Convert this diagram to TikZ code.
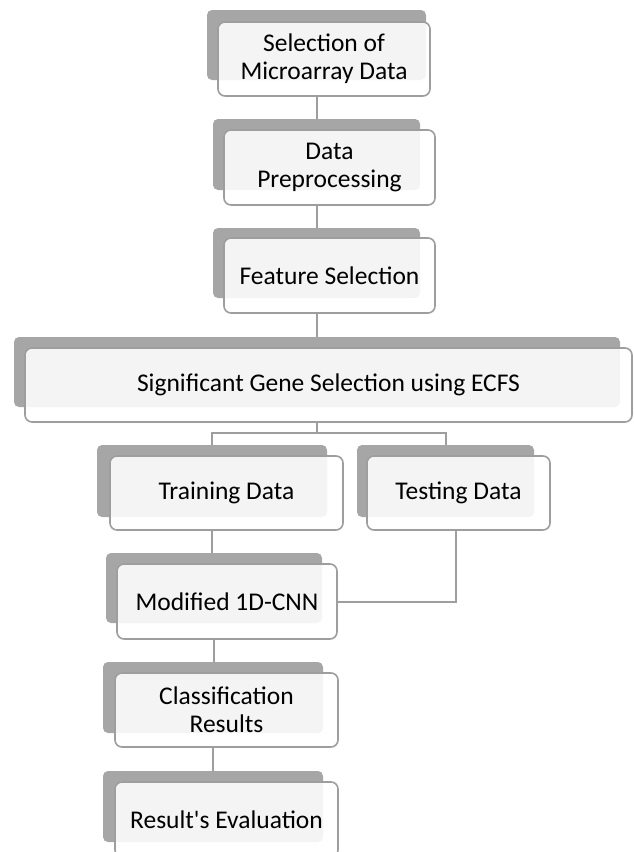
\documentclass[tikz,border=0pt]{standalone}
\usepackage{fontspec}
\setmainfont{Carlito}[Ligatures=TeXOff]
\usepackage{tikz}
\usetikzlibrary{calc,positioning}
\definecolor{shadegray}{RGB}{166,166,166}
\definecolor{linegray}{RGB}{158,158,158}

\begin{document}
\begin{tikzpicture}[x=1pt,y=-1pt,
    backbox/.style={fill=shadegray, rounded corners=5pt, inner sep=0pt, outer sep=0pt},
    frontbox/.style={draw=linegray, line width=1.6pt, rounded corners=7pt, fill=white,
      fill opacity=0.88, text opacity=1, align=center, inner sep=0pt, outer sep=0pt,
      font=\fontsize{25.5}{28}\selectfont},
    link/.style={draw=linegray, line width=2pt}]
        \useasboundingbox (0,0) rectangle (633,852);
        %Shade
        \node[backbox, minimum width=219, minimum height=70] (selB)   at (316.5,45)  {};
        \node[backbox, minimum width=207, minimum height=71] (preB)   at (316.5,154.5) {};
        \node[backbox, minimum width=207, minimum height=70] (featB)  at (316.5,263) {};
        \node[backbox, minimum width=606, minimum height=70] (sigB)   at (317,372)   {};
        \node[backbox, minimum width=230, minimum height=72] (trainB) at (212,481)   {};
        \node[backbox, minimum width=177, minimum height=72] (testB)  at (445.5,481) {};
        \node[backbox, minimum width=216, minimum height=70] (cnnB)   at (214,588)   {};
        \node[backbox, minimum width=220, minimum height=71] (clsB)   at (213,697.5) {};
        \node[backbox, minimum width=220, minimum height=71] (evalB)  at (213,806.5) {};
        %Boxes
        \node[frontbox, minimum width=212, minimum height=74] (sel)   at (324,59)      {Selection of\\Microarray Data};
        \node[frontbox, minimum width=211, minimum height=75] (pre)   at (329.5,167.5) {Data\\Preprocessing};
        \node[frontbox, minimum width=211, minimum height=75] (feat)  at (329.5,275.5) {Feature Selection};
        \node[frontbox, minimum width=607, minimum height=74] (sig)   at (328.5,385)   {Significant Gene Selection using ECFS};
        \node[frontbox, minimum width=233, minimum height=74] (train) at (226.5,493)   {Training Data};
        \node[frontbox, minimum width=183, minimum height=74] (test)  at (458.5,493)   {Testing Data};
        \node[frontbox, minimum width=220, minimum height=75] (cnn)   at (227,601.5)   {Modified 1D-CNN};
        \node[frontbox, minimum width=223, minimum height=74] (cls)   at (226.5,710)   {Classification\\Results};
        \node[frontbox, minimum width=223, minimum height=75] (eval)  at (226.5,819.5) {Result's Evaluation};
        %Connectors
        \draw[link] (selB.south |- sel.south) -- (selB.south |- preB.north);
        \draw[link] (preB.south |- pre.south) -- (preB.south |- featB.north);
        \draw[link] (featB.south |- feat.south) -- (featB.south |- sigB.north);
        \coordinate (split) at ($(sigB.south |- sig.south)+(0,11)$);
        \draw[link] (sigB.south |- sig.south) -- (split);
        \draw[link] (trainB.north) -- (trainB.north |- split) -- (testB.north |- split) -- (testB.north);
        \draw[link] (trainB.south |- train.south) -- (trainB.south |- cnnB.north);
        \draw[link] ([xshift=-3pt]test.south) |- (cnn.east);
        \draw[link] (cnnB.south |- cnn.south) -- (cnnB.south |- clsB.north);
        \draw[link] (clsB.south |- cls.south) -- (clsB.south |- evalB.north);
\end{tikzpicture}
\end{document}
